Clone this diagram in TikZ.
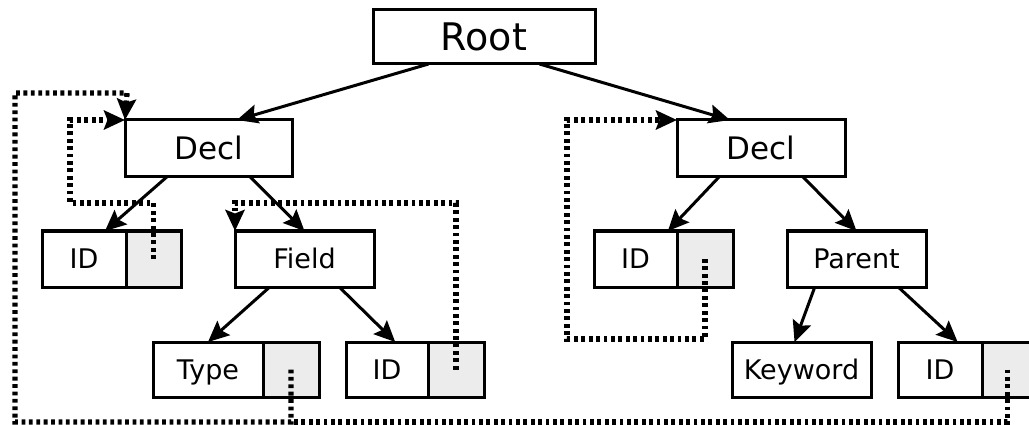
\documentclass[tikz,border=0pt]{standalone}
\usepackage{fontspec}
\setmainfont{DejaVu Sans}
\usetikzlibrary{arrows.meta,calc}
\definecolor{slotfill}{HTML}{ECECEC}
\tikzset{
  x=1pt, y=-1pt,
  box/.style={draw=black, line width=3pt, rectangle, inner sep=0pt, outer sep=0pt,
              anchor=north west, minimum height=56pt},
  slot/.style={box, fill=slotfill, minimum width=55pt},
  tRoot/.style={font=\fontsize{38}{40}\selectfont, text height=27.7pt, text depth=0pt},
  tDecl/.style={font=\fontsize{31}{33}\selectfont, text height=22.6pt, text depth=0pt},
  tMid/.style={font=\fontsize{27}{29}\selectfont, text height=19.7pt, text depth=0pt},
  tLeaf/.style={font=\fontsize{27}{29}\selectfont, text height=19.7pt, text depth=0pt},
  tip/.style={-{Stealth[length=21pt,width=19pt,inset=3.5pt]}},
  edge/.style={tip, line width=3pt},
  link/.style={tip, line width=5.4pt, dash pattern=on 3.8pt off 3.6pt}
}
\begin{document}
\begin{tikzpicture}
\useasboundingbox (0,0) rectangle (1029,425);

% tree nodes
\node[box, tRoot, minimum width=222pt, minimum height=54pt] (root) at (373,10) {Root};

\node[box, tDecl, minimum width=167pt, minimum height=57pt] (declL) at (125,120) {Decl};
\node[box, tDecl, minimum width=168pt, minimum height=57pt] (declR) at (677,120) {Decl};

\node[box, tLeaf, minimum width=84pt] (idL) at (42,231) {ID};
\node[slot] (idLg) at (126,231) {};
\node[box, tMid, minimum width=139pt] (field) at (235,231) {Field};

\node[box, tLeaf, minimum width=83pt] (idR) at (594,231) {ID};
\node[slot, minimum width=56pt] (idRg) at (677,231) {};
\node[box, tMid, minimum width=139pt] (parent) at (787,231) {Parent};

\node[box, tLeaf, minimum width=110pt, minimum height=55pt] (type) at (153,342) {Type};
\node[slot, minimum width=56pt, minimum height=55pt] (typeg) at (263,342) {};
\node[box, tLeaf, minimum width=82pt, minimum height=55pt] (idM) at (346,342) {ID};
\node[slot, minimum width=56pt, minimum height=55pt] (idMg) at (428,342) {};

\node[box, tLeaf, minimum width=139pt, minimum height=55pt] (keyword) at (732,342) {Keyword};
\node[box, tLeaf, minimum width=84pt, minimum height=55pt] (idR2) at (898,342) {ID};
\node[slot, minimum height=55pt] (idR2g) at (982,342) {};

% parent-child edges
\draw[edge] ($(root.south west)!0.25!(root.south east)$) -- ($(declL.north west)!0.67!(declL.north east)$);
\draw[edge] ($(root.south west)!0.75!(root.south east)$) -- ($(declR.north west)!0.315!(declR.north east)$);

\draw[edge] ($(declL.south west)!0.25!(declL.south east)$) -- ($(idL.north west)!0.75!(idL.north east)$);
\draw[edge] ($(declL.south west)!0.75!(declL.south east)$) -- (field.north);

\draw[edge] ($(field.south west)!0.25!(field.south east)$) -- (type.north);
\draw[edge] ($(field.south west)!0.75!(field.south east)$) -- ($(idM.north west)!0.6!(idM.north east)$);

\draw[edge] ($(declR.south west)!0.25!(declR.south east)$) -- ($(idR.north west)!0.89!(idR.north east)$);
\draw[edge] ($(declR.south west)!0.75!(declR.south east)$) -- (parent.north);

\draw[edge] ($(parent.south west)!0.2!(parent.south east)$) -- ($(keyword.north west)!0.45!(keyword.north east)$);
\draw[edge] ($(parent.south west)!0.8!(parent.south east)$) -- ($(idR2.north west)!0.71!(idR2.north east)$);

% reference links
\coordinate (bottom) at (291,422);
\draw[link] (idLg.center) |- (70,203) |- (declL.north west);
\draw[link] (typeg.center) |- (15,422) |- ($(declL.north west)+(2,-27)$) -- ($(declL.north west)+(0,0)$);
\draw[link, -] ($(idR2g.center)+(-2,0)$) |- (bottom);
\draw[link] (idMg.center) |- ($(field.north west)+(0,-28)$) -- (field.north west);
\draw[link] (idRg.center) |- (567,339) |- (declR.north west);
\end{tikzpicture}
\end{document}
